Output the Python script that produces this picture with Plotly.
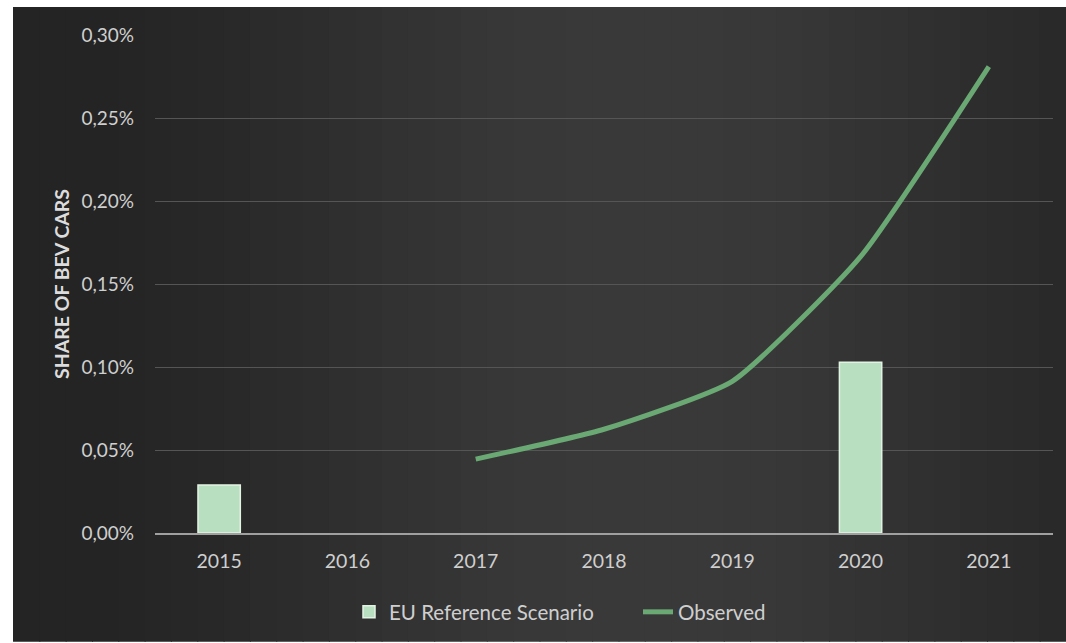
import math
import plotly.graph_objects as go

years = ["2015", "2016", "2017", "2018", "2019", "2020", "2021"]
eu_reference = [0.000289, None, None, None, None, 0.001028, None]
observed = [None, None, 0.000445, 0.000625, 0.000914, 0.001665, 0.002810]
y_ticks = [0, 0.0005, 0.001, 0.0015, 0.002, 0.0025, 0.003]

W, H = 1066, 643
L, R, T, B = 155, 13, 35, 109
pw, ph = W - L - R, H - T - B

def px_x(p):
    return (p - L) / pw

def px_y(p):
    return (H - B - p) / ph

fig = go.Figure()

fig.add_trace(go.Bar(
    x=years, y=eu_reference, name="EU Reference Scenario",
    marker=dict(color="#b9dfc1", line=dict(color="#e3f3e3", width=1.5)),
    width=0.33,
))
fig.add_trace(go.Scatter(
    x=years, y=observed, name="Observed", mode="lines",
    line=dict(color="#6aa874", width=5, shape="spline", smoothing=0.5),
))

# dark gradient background panel
shapes = []
n = 40
x0p, x1p = 13, 1066
def shade(t):
    v = 0.5 - 0.5 * math.cos(2 * math.pi * min(1, t * 0.85))
    base = 36 + int(22 * v)
    return f"rgb({base},{base},{base})"
for i in range(n):
    a = x0p + (x1p - x0p) * i / n
    b = x0p + (x1p - x0p) * (i + 1) / n + 1
    shapes.append(dict(type="rect", xref="paper", yref="paper",
                       x0=px_x(a), x1=px_x(b), y0=px_y(643), y1=px_y(7),
                       fillcolor=shade(i / n), line=dict(width=0), layer="below"))

fig.update_layout(
    width=W, height=H,
    margin=dict(l=L, r=R, t=T, b=B),
    paper_bgcolor="#ffffff",
    plot_bgcolor="rgba(0,0,0,0)",
    separators=",.",
    shapes=shapes,
    font=dict(family="Lato, Noto Sans, sans-serif", color="#cfcfcf", size=18),
    bargap=0.67,
    showlegend=True,
    legend=dict(orientation="h", x=px_x(349), xanchor="left", y=px_y(612), yanchor="middle",
                font=dict(size=20.5, color="#cfcfcf"), bgcolor="rgba(0,0,0,0)",
                traceorder="normal", entrywidth=244),
    xaxis=dict(type="category", showgrid=False, showline=True, linecolor="#a0a0a0", linewidth=2,
               ticks="", tickfont=dict(size=19.5, color="#cfcfcf"), zeroline=False,
               ticklabelstandoff=10),
    yaxis=dict(range=[0, 0.003], tickvals=y_ticks, tickformat=".2%", showgrid=True,
               gridcolor="#555555", gridwidth=1, zeroline=False, showline=False,
               ticks="", ticklen=0, tickfont=dict(size=19, color="#cfcfcf"),
               ticklabelstandoff=20,
               title=dict(text="<b>SHARE OF BEV CARS</b>", font=dict(size=19.5, color="#dcdcdc"), standoff=6)),
)

fig.write_html("out.html")
